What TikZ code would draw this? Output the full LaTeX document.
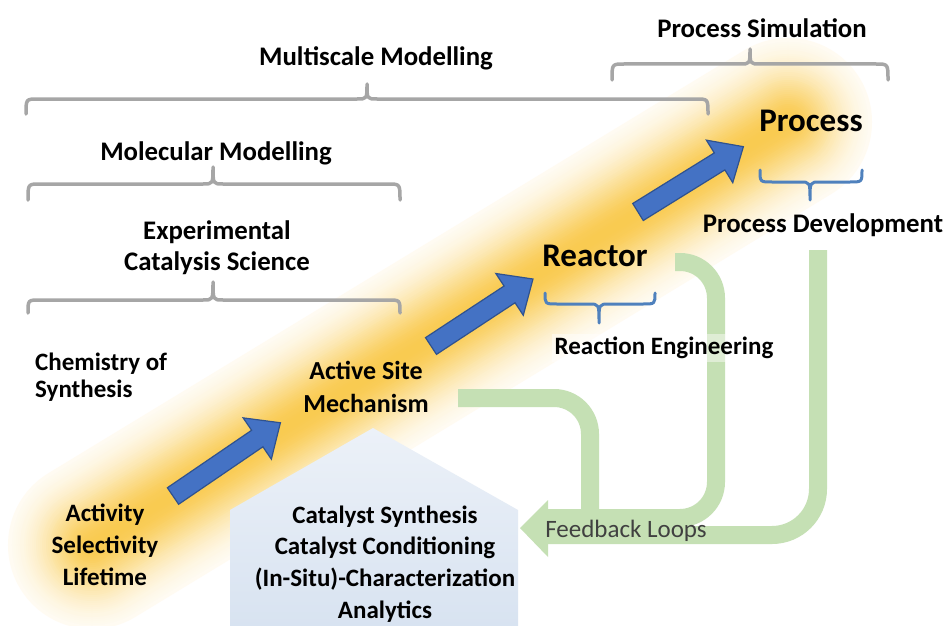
\documentclass[tikz,border=0pt]{standalone}
\usepackage{fontspec}
\setmainfont{Carlito}
\definecolor{glowc}{RGB}{249,200,72}
\definecolor{arrfill}{RGB}{68,114,196}
\definecolor{arrdraw}{RGB}{47,82,143}
\definecolor{fbc}{RGB}{197,224,180}
\definecolor{brgray}{RGB}{166,166,166}
\definecolor{brblue}{RGB}{79,129,189}
\definecolor{pentop}{RGB}{236,241,248}
\definecolor{penbot}{RGB}{216,227,241}
\definecolor{fbtext}{RGB}{64,64,64}
\newcommand\ovbr[7]{\draw[#1] (#2,#5) .. controls (#2,#6) .. ({#2+12},#6) -- ({#4-10},#6) .. controls (#4,#6) .. (#4,#7) .. controls (#4,#6) .. ({#4+10},#6) -- ({#3-12},#6) .. controls (#3,#6) .. (#3,#5);}
\newcommand\bluearrow[4]{\begin{scope}[shift={(#1,#2)},rotate=#3]
\draw[barrow] (0,-10) -- ({#4-28},-10) -- ({#4-28},-25) -- (#4,0) -- ({#4-28},25) -- ({#4-28},10) -- (0,10) -- cycle;
\end{scope}}
\begin{document}
\begin{tikzpicture}[x=1pt,y=-1pt,
  every node/.style={inner sep=0pt,text=black},
  lbl/.style={font=\fontsize{25}{32}\selectfont\bfseries,align=center},
  head/.style={font=\fontsize{26.8}{31}\selectfont\bfseries,align=center},
  big/.style={font=\fontsize{33}{38}\selectfont\bfseries},
  gbr/.style={draw=brgray,line width=3.5pt,line cap=round,line join=round},
  bbr/.style={draw=brblue,line width=3pt,line cap=round,line join=round},
  barrow/.style={fill=arrfill,draw=arrdraw,line width=1.2pt,line join=miter},
  fbline/.style={draw=fbc,line width=18pt,rounded corners=36pt}]
\fill[white] (0,0) rectangle (948,626);
\useasboundingbox (0,0) rectangle (948,626);

% glow band
\coordinate (gs) at (92,545);
\coordinate (ge) at (788,122);
\foreach \w in {168,164,...,4} {
  \pgfmathsetmacro\pp{int(96/exp((\w/104)*(\w/104)))}
  \draw[draw=glowc!\pp!white,line width=\w pt,line cap=round] (gs) -- (ge);
}

% pentagon
\shade[top color=pentop,bottom color=penbot] (373,428) -- (518,510) -- (518,626) -- (230,626) -- (230,510) -- cycle;

% blue arrows
\bluearrow{173}{496}{34.3}{130}
\bluearrow{431}{346}{33.3}{122}
\bluearrow{638}{212}{31.8}{124}

% feedback loops
\coordinate (fa) at (458,398);
\coordinate (fb) at (675,262);
\coordinate (fc) at (818,250);
\coordinate (tip) at (520,528);
\draw[fbline] (fa) -- (590,398) -- (590,514);
\draw[fbline] (fb) -- (716,262) -- (716,518) -- (547,518);
\draw[fbline,rounded corners=46pt] (fc) -- (818,535) -- (547,535);
\fill[fbc] (548,500) -- (tip) -- (548,557) -- cycle;

% brackets
\ovbr{gbr}{26}{708}{367}{114}{99}{84}
\ovbr{gbr}{612}{888}{750}{80}{64}{49}
\ovbr{gbr}{28}{400}{213}{200}{184}{167}
\ovbr{gbr}{28}{400}{213}{313}{300}{282}
\ovbr{bbr}{545}{655}{599}{293}{304}{323}
\ovbr{bbr}{760}{862}{810}{170}{182}{200}

% labels
\node[head] (multi) at (376,58) {Multiscale Modelling};
\node[head] (psim) at (762,28) {Process Simulation};
\node[head] (molec) at (216,153) {Molecular Modelling};
\node[head] (exper) at (217,248) {Experimental\\Catalysis Science};
\node[font=\fontsize{25}{27}\selectfont\bfseries,align=left,anchor=west] (chem) at (35,377) {Chemistry of\\Synthesis};
\node[lbl,font=\fontsize{26}{33}\selectfont\bfseries] (act) at (366,387) {Active Site\\Mechanism};
\node[big] (reactor) at (595,256) {Reactor};
\node[big] (process) at (811,121) {Process};
\node[head] (pdev) at (823,225) {Process Development};
\node[font=\fontsize{25}{30}\selectfont\bfseries,fill=white,fill opacity=0.45,text opacity=1,inner sep=3pt] (reng) at (664,348) {Reaction Engineering};
\node[lbl] (aslt) at (105,545) {Activity\\Selectivity\\Lifetime};
\node[font=\fontsize{25}{31.7}\selectfont\bfseries,align=center] (cat) at (385,564) {Catalyst Synthesis\\Catalyst Conditioning\\(In-Situ)-Characterization\\Analytics};
\node[font=\fontsize{25}{28}\selectfont,text=fbtext] (fbl) at (626,531) {Feedback Loops};
\end{tikzpicture}
\end{document}
